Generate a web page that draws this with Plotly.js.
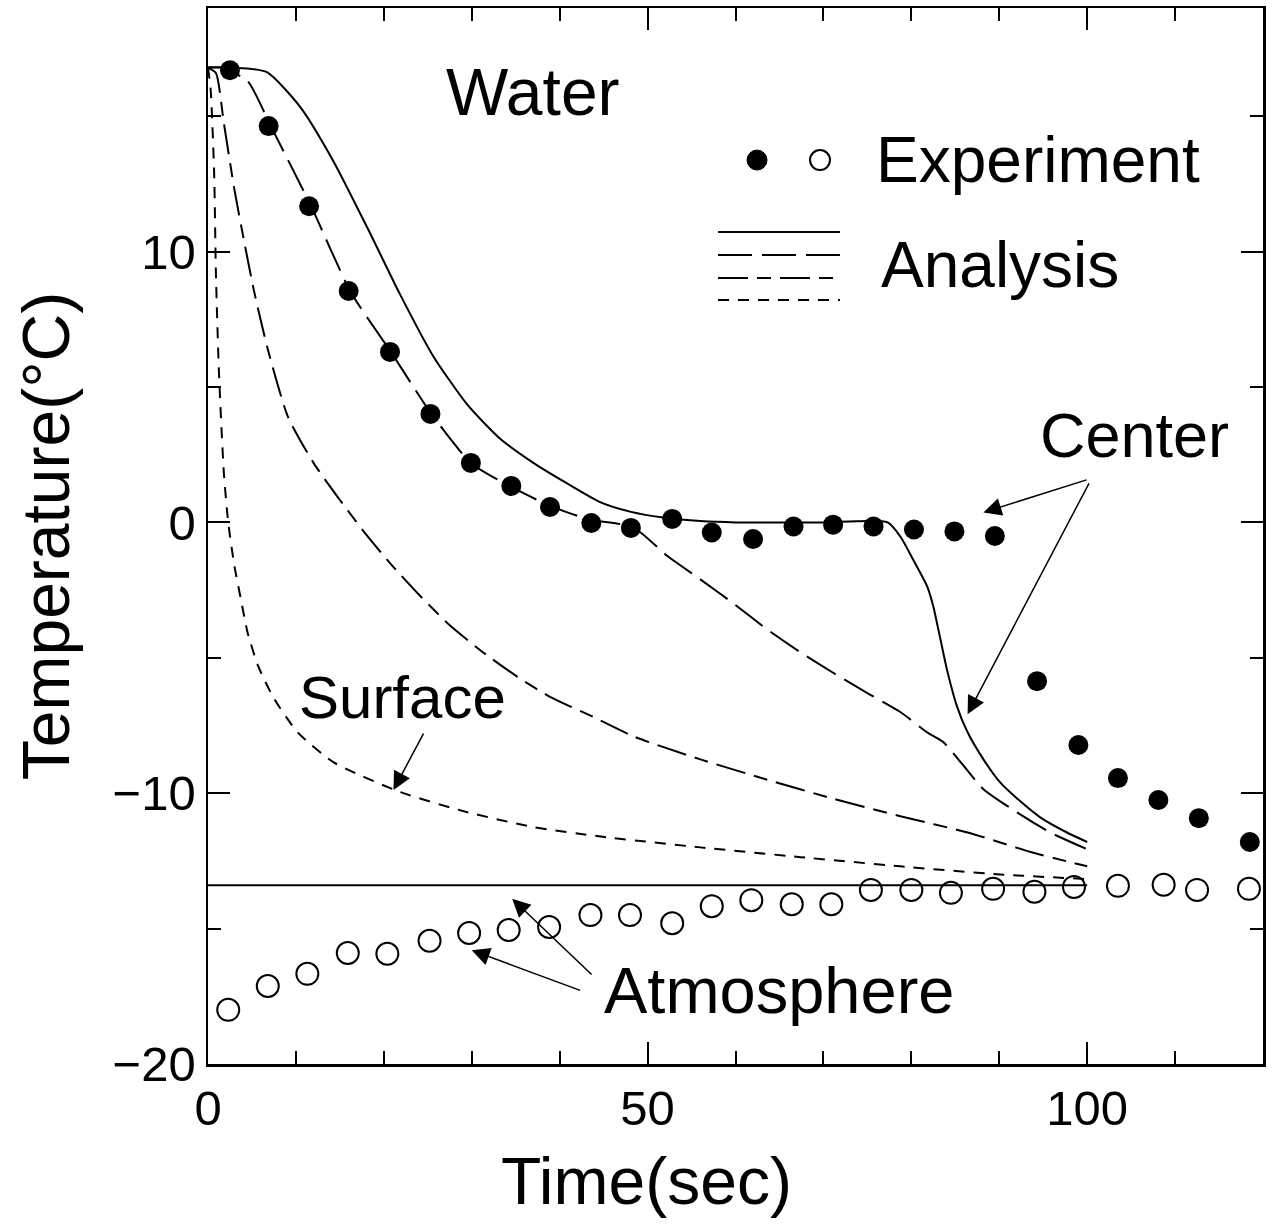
<!DOCTYPE html>
<html>
<head>
<meta charset="utf-8">
<script src="https://cdn.plot.ly/plotly-3.0.1.min.js"></script>
<style>
html,body{margin:0;padding:0;background:#fff;}
#chart{width:1273px;height:1225px;}
</style>
</head>
<body>
<div id="chart"></div>
<script>
// ---- Experiment: center (filled circles) ----
var expCenterTime = [2.5, 6.9, 11.5, 16.0, 20.7, 25.3, 29.9, 34.5, 38.9, 43.6, 48.1, 52.8, 57.3, 62.0, 66.6, 71.1, 75.7, 80.3, 84.9, 89.5, 94.3, 99.0, 103.5, 108.1, 112.7, 118.5];
var expCenterTemp = [16.7, 14.64, 11.68, 8.55, 6.3, 4.01, 2.2, 1.35, 0.57, -0.02, -0.2, 0.13, -0.37, -0.61, -0.15, -0.08, -0.15, -0.26, -0.33, -0.5, -5.86, -8.22, -9.44, -10.25, -10.92, -11.8];

// ---- Experiment: atmosphere (open circles) ----
var expAtmTime = [2.3, 6.8, 11.3, 15.9, 20.4, 25.2, 29.7, 34.2, 38.8, 43.5, 48.0, 52.8, 57.3, 61.8, 66.4, 70.9, 75.4, 80.0, 84.5, 89.3, 94.0, 98.5, 103.5, 108.7, 112.5, 118.4];
var expAtmTemp = [-18.0, -17.12, -16.67, -15.9, -15.93, -15.45, -15.16, -15.05, -14.94, -14.5, -14.5, -14.8, -14.17, -13.95, -14.1, -14.1, -13.57, -13.57, -13.68, -13.53, -13.64, -13.46, -13.42, -13.38, -13.57, -13.53];

// ---- Analysis: center (solid) ----
var anaCenterTime = [0, 3, 6.7, 10.5, 14.2, 18.1, 21.8, 25.6, 29.5, 33.2, 37, 40.8, 44.6, 48, 52, 56, 60, 70, 77.3, 78.75, 80.2, 81.8, 82.5, 83.3, 84.1, 85.2, 86.4, 88.2, 90.1, 92.4, 94.7, 97.7, 100];
var anaCenterTemp = [16.8, 16.8, 16.63, 15.34, 13.38, 10.9, 8.45, 6.15, 4.35, 3.1, 2.2, 1.45, 0.75, 0.4, 0.17, 0.05, 0, 0, 0, -0.52, -1.37, -2.36, -3.1, -4.3, -5.5, -6.8, -7.75, -8.75, -9.6, -10.3, -10.9, -11.45, -11.8];

// ---- Analysis: long dash ----
var anaLongTime = [0, 1.5, 4.5, 7.2, 11.7, 16.25, 20.8, 25.3, 29.9, 34.4, 39, 43.5, 47.5, 49.2, 52.3, 56, 59.8, 63.6, 67.4, 71.1, 75, 78.75, 81.8, 83.6, 85.6, 88.2, 92, 95.8, 100];
var anaLongTemp = [16.8, 16.8, 16.3, 14.6, 11.7, 8.5, 6.3, 4.06, 2.2, 1.33, 0.6, 0.1, -0.1, -0.37, -1.25, -2.1, -3.0, -3.95, -4.8, -5.55, -6.3, -7.0, -7.75, -8.1, -8.85, -9.85, -10.7, -11.45, -12.07];

// ---- Analysis: medium dash ----
var anaMedTime = [0, 0.9, 1.8, 3.0, 4.1, 5.2, 6.8, 9.1, 12, 15, 18, 20.7, 23.8, 27.5, 31.3, 35.2, 38.9, 43.8, 48.4, 56, 63.6, 71.1, 78.75, 86.4, 93.9, 100];
var anaMedTemp = [16.8, 16.6, 14.76, 12.3, 10.4, 8.6, 6.4, 3.9, 2.2, 0.83, -0.45, -1.5, -2.6, -3.8, -4.8, -5.7, -6.44, -7.18, -7.9, -8.75, -9.5, -10.2, -10.85, -11.45, -12.2, -12.7];

// ---- Analysis: surface (short dash) ----
var anaSurfTime = [0, 0.3, 0.7, 0.9, 1.25, 1.8, 2.3, 3.0, 3.75, 4.5, 5.7, 7.5, 10.2, 14.3, 21.9, 29.5, 37, 44.7, 56, 67.4, 78.75, 90.1, 100];
var anaSurfTemp = [16.8, 16.0, 12.9, 9.2, 5.5, 1.85, 0, -1.6, -2.85, -4.06, -5.3, -6.5, -7.75, -8.86, -9.96, -10.7, -11.25, -11.6, -12.0, -12.36, -12.7, -13.0, -13.17];

// ---- Analysis: atmosphere (solid) ----
var anaAtmTime = [0, 100];
var anaAtmTemp = [-13.4, -13.4];

// ---- Axis ticks ----
var xTickVals = [0, 50, 100];
var yTickVals = [-20, -10, 0, 10];

var FONT = '"Liberation Sans", Arial, Helvetica, sans-serif';
var LW = 2;
var DASH_LONG = '34px,10px';
var DASH_MED = '30px,9px,14px,9px';
var DASH_SHORT = '11px,9px';

var traces = [
  {x: anaAtmTime, y: anaAtmTemp, mode: 'lines', line: {color: '#000', width: LW}},
  {x: anaSurfTime, y: anaSurfTemp, mode: 'lines', line: {color: '#000', width: LW, dash: DASH_SHORT, shape: 'spline', smoothing: 0.6}},
  {x: anaMedTime, y: anaMedTemp, mode: 'lines', line: {color: '#000', width: LW, dash: DASH_MED, shape: 'spline', smoothing: 0.6}},
  {x: anaLongTime, y: anaLongTemp, mode: 'lines', line: {color: '#000', width: LW, dash: DASH_LONG, shape: 'spline', smoothing: 0.6}},
  {x: anaCenterTime, y: anaCenterTemp, mode: 'lines', line: {color: '#000', width: LW, shape: 'spline', smoothing: 0.6}},
  {x: expCenterTime, y: expCenterTemp, mode: 'markers', marker: {symbol: 'circle', color: '#000', size: 20}},
  {x: expAtmTime, y: expAtmTemp, mode: 'markers', marker: {symbol: 'circle-open', color: '#000', size: 22, line: {width: 2, color: '#000'}}}
];

function txt(t, x, y, size, xanchor) {
  return {text: t, x: x, y: y, xref: 'x', yref: 'y', showarrow: false,
          xanchor: xanchor || 'center', yanchor: 'middle', font: {family: FONT, size: size, color: '#000'}};
}
function arrow(x, y, ax, ay) {
  return {text: '', x: x, y: y, ax: ax, ay: ay, xref: 'x', yref: 'y', axref: 'x', ayref: 'y',
          showarrow: true, arrowhead: 2, arrowsize: 2.4, arrowwidth: 1.5, arrowcolor: '#000', standoff: 0, startstandoff: 0};
}

var annotations = [
  txt('Water', 37.0, 15.9, 66),
  txt('Experiment', 75.8, 13.4, 64, 'left'),
  txt('Analysis', 76.3, 9.5, 64, 'left'),
  txt('Center', 105.4, 3.24, 63),
  txt('Surface', 22.1, -6.47, 60),
  txt('Atmosphere', 65.0, -17.3, 65),
  arrow(88.2, 0.37, 100.1, 1.59),
  arrow(86.4, -7.08, 100.3, 1.5),
  arrow(21.1, -9.88, 24.6, -7.74),
  arrow(34.6, -13.9, 43.8, -16.75),
  arrow(30.0, -15.8, 42.5, -17.3),
  // x-axis title: in the original it is centred under 0..100 s, not the full 0..120 axis
  {text: 'Time(sec)', xref: 'paper', yref: 'paper', x: 0.416, y: -0.074, xanchor: 'center', yanchor: 'top',
   showarrow: false, font: {family: FONT, size: 66, color: '#000'}}
];

// Legend samples (paper coordinates)
var legX0 = 0.4834, legX1 = 0.599;
var legLineY = [0.7879, 0.7661, 0.7443, 0.7235];
var legDash = ['solid', DASH_LONG, DASH_MED, DASH_SHORT];
var shapes = [];
for (var i = 0; i < 4; i++) {
  shapes.push({type: 'line', xref: 'paper', yref: 'paper', x0: legX0, x1: legX1, y0: legLineY[i], y1: legLineY[i],
               line: {color: '#000', width: LW, dash: legDash[i]}});
}
shapes.push({type: 'circle', xref: 'paper', yref: 'paper', xsizemode: 'pixel', ysizemode: 'pixel',
             xanchor: 0.5204, yanchor: 0.856, x0: -10, x1: 10, y0: -10, y1: 10,
             fillcolor: '#000', line: {color: '#000', width: 1}});
shapes.push({type: 'circle', xref: 'paper', yref: 'paper', xsizemode: 'pixel', ysizemode: 'pixel',
             xanchor: 0.5801, yanchor: 0.856, x0: -10, x1: 10, y0: -10, y1: 10,
             fillcolor: 'rgba(0,0,0,0)', line: {color: '#000', width: 2}});

var layout = {
  width: 1273, height: 1225,
  margin: {l: 208, r: 10, t: 8, b: 161},
  paper_bgcolor: '#fff', plot_bgcolor: '#fff',
  showlegend: false,
  font: {family: FONT, color: '#000'},
  xaxis: {
    range: [0, 120], tickmode: 'array', tickvals: xTickVals, ticktext: xTickVals.map(String),
    ticks: 'inside', ticklen: 22, tickwidth: 2, tickcolor: '#000',
    minor: {dtick: 10, ticks: 'inside', ticklen: 13, tickwidth: 2, tickcolor: '#000', showgrid: false},
    showline: true, linewidth: 2.5, linecolor: '#000', mirror: 'allticks', showgrid: false, zeroline: false,
    tickfont: {family: FONT, size: 49, color: '#000'}, ticklabelstandoff: 0
  },
  yaxis: {
    range: [-20, 19], tickmode: 'array', tickvals: yTickVals,
    ticks: 'inside', ticklen: 22, tickwidth: 2, tickcolor: '#000',
    minor: {dtick: 5, ticks: 'inside', ticklen: 13, tickwidth: 2, tickcolor: '#000', showgrid: false},
    showline: true, linewidth: 2.5, linecolor: '#000', mirror: 'allticks', showgrid: false, zeroline: false,
    tickfont: {family: FONT, size: 49, color: '#000'}, ticklabelstandoff: 0,
    title: {text: 'Temperature(°C)', font: {family: FONT, size: 66, color: '#000'}, standoff: 22}
  },
  annotations: annotations,
  shapes: shapes
};

Plotly.newPlot('chart', traces, layout, {displayModeBar: false, staticPlot: true});
</script>
</body>
</html>
